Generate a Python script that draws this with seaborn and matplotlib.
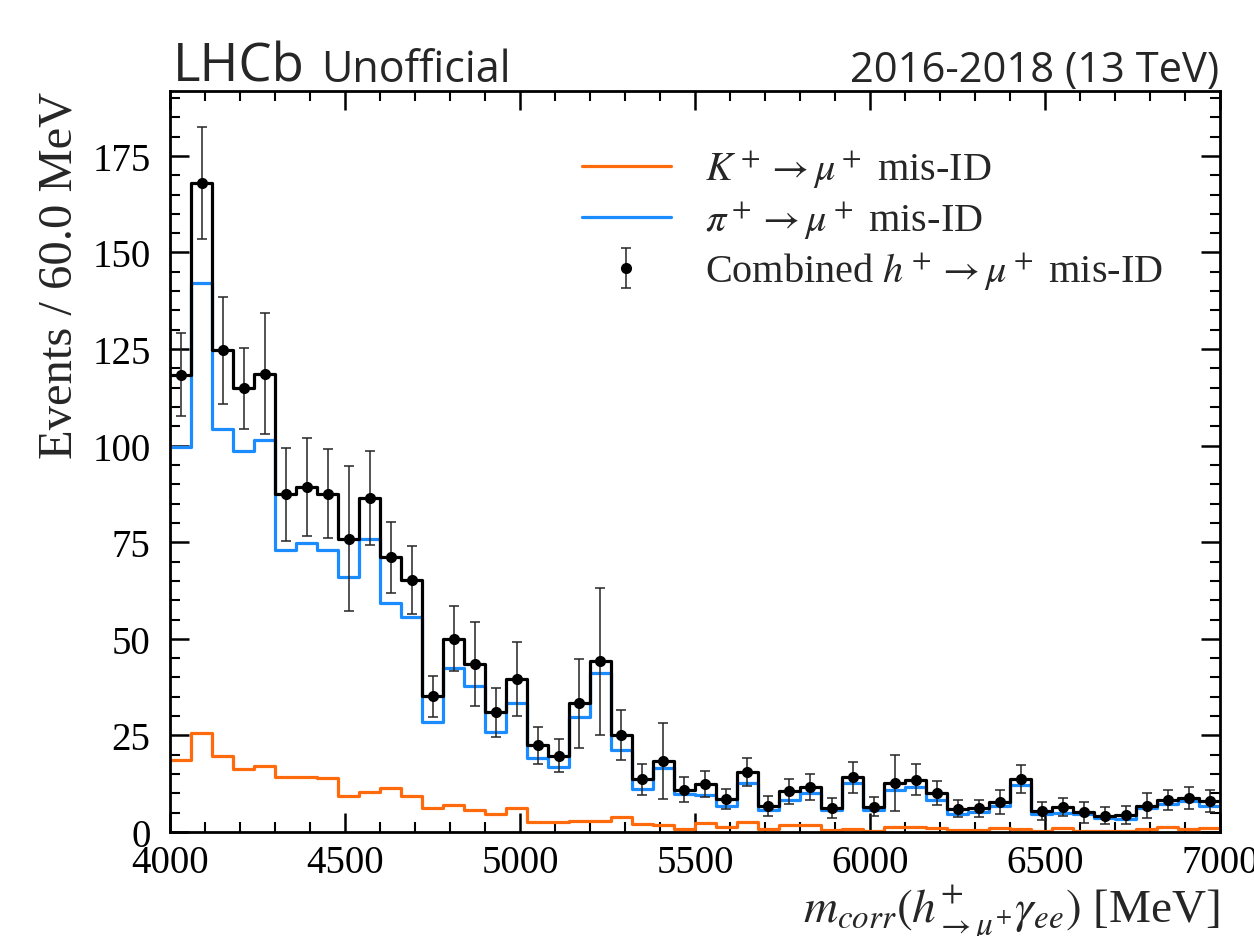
import numpy as np
import pandas as pd
import matplotlib
matplotlib.use("Agg")
import matplotlib.pyplot as plt
from matplotlib.ticker import MultipleLocator
from matplotlib.lines import Line2D
import seaborn as sns

# ---- data ----
bin_lo = 4000
bin_hi = 7000
bin_width = 60

combined = [118.4, 168.0, 124.7, 114.8, 118.6, 87.4, 89.3, 87.6, 75.9, 86.5,
            71.1, 65.3, 35.1, 50.0, 43.5, 31.0, 39.5, 22.4, 19.8, 33.3,
            44.2, 25.2, 13.7, 18.4, 11.0, 12.4, 8.5, 15.6, 6.8, 10.5,
            11.7, 6.2, 14.2, 6.6, 12.7, 13.5, 10.0, 6.0, 6.1, 7.8,
            13.7, 5.5, 6.4, 5.1, 4.2, 4.4, 6.8, 8.3, 8.8, 8.1]
combined_err = [10.7, 14.5, 13.9, 10.5, 15.7, 12.1, 12.7, 11.6, 18.8, 12.2,
                9.2, 8.8, 5.4, 8.4, 10.8, 6.3, 9.6, 4.75, 4.3, 11.6,
                19.0, 6.5, 4.0, 9.8, 3.3, 3.4, 2.6, 3.6, 2.6, 3.3,
                3.4, 2.5, 4.0, 2.5, 7.2, 4.0, 3.1, 2.2, 2.3, 3.2,
                3.6, 2.3, 2.3, 2.7, 2.2, 2.3, 3.2, 2.7, 2.8, 2.9]
pion = [99.6, 142.1, 104.4, 98.5, 101.4, 72.9, 74.9, 72.9, 65.9, 75.9,
        59.3, 55.6, 28.6, 42.4, 37.7, 25.8, 33.4, 19.2, 16.7, 29.7,
        41.1, 21.2, 11.1, 16.6, 9.8, 9.6, 6.8, 12.8, 5.7, 8.3,
        10.1, 5.7, 12.8, 5.7, 10.9, 11.7, 8.4, 4.7, 5.1, 6.8,
        12.2, 4.7, 4.8, 4.7, 3.6, 3.4, 6.1, 7.3, 8.1, 6.8]
kaon = [18.7, 25.5, 19.8, 16.3, 17.0, 14.3, 14.3, 14.0, 9.4, 10.4,
        11.5, 9.2, 6.1, 7.0, 5.8, 4.7, 6.1, 2.7, 2.7, 2.9,
        2.8, 4.0, 2.1, 1.8, 0.8, 2.4, 1.4, 2.7, 0.8, 1.9,
        1.8, 0.4, 0.9, 0.3, 1.2, 1.2, 1.0, 0.4, 0.6, 1.0,
        0.9, 0.3, 1.1, 0.3, 0.3, 0.3, 0.9, 1.2, 0.7, 1.0]

labels = [r"$K^+ \rightarrow \mu^+$ mis-ID",
          r"$\pi^+ \rightarrow \mu^+$ mis-ID",
          r"Combined $h^+ \rightarrow \mu^+$ mis-ID"]

n_bins = len(combined)
centers = bin_lo + bin_width * (np.arange(n_bins) + 0.5)
df = pd.DataFrame({"x": centers, "combined": combined, "err": combined_err,
                   "pion": pion, "kaon": kaon})

# ---- style ----
sns.set_theme(style="ticks")
plt.rcParams.update({
    "font.family": ["Liberation Serif", "DejaVu Serif"],
    "mathtext.fontset": "stix",
    "axes.linewidth": 2.0,
    "xtick.direction": "in", "ytick.direction": "in",
    "xtick.top": True, "ytick.right": True,
    "xtick.major.size": 14, "ytick.major.size": 14,
    "xtick.minor.size": 7, "ytick.minor.size": 7,
    "xtick.major.width": 1.8, "ytick.major.width": 1.8,
    "xtick.minor.width": 1.5, "ytick.minor.width": 1.5,
    "xtick.minor.visible": True, "ytick.minor.visible": True,
    "xtick.labelsize": 28, "ytick.labelsize": 28,
    "xtick.color": "black", "ytick.color": "black",
    "axes.edgecolor": "black",
})

ORANGE = "#ff6a0d"
BLUE = "#1a8cff"

fig = plt.figure(figsize=(12.54, 9.37), dpi=100)
ax = fig.add_axes([170 / 1254, 1 - 833 / 937, 1050 / 1254, 741 / 937])

hist_kws = dict(data=df, x="x", binwidth=bin_width, binrange=(bin_lo, bin_hi),
                element="step", fill=False, linewidth=2.3, ax=ax)
sns.histplot(weights="kaon", color=ORANGE, **hist_kws)
sns.histplot(weights="pion", color=BLUE, **hist_kws)
sns.histplot(weights="combined", color="black", **hist_kws)
eb = ax.errorbar(df["x"], df["combined"], yerr=df["err"], fmt="o", color="black",
                 ms=7, ecolor=(0.15, 0.15, 0.15, 0.85), elinewidth=1.3,
                 capsize=3.5, capthick=1.3, zorder=5)

h_k = Line2D([], [], color=ORANGE, lw=2.3)
h_p = Line2D([], [], color=BLUE, lw=2.3)
ax.legend([h_k, h_p, eb], labels, loc="upper right", frameon=False,
          fontsize=29, labelspacing=0.21, handlelength=2.2, handletextpad=0.85,
          bbox_to_anchor=(0.98, 0.972))

ax.set_xlim(bin_lo, bin_hi)
ax.set_ylim(0, 191.8)
ax.xaxis.set_major_locator(MultipleLocator(500))
ax.xaxis.set_minor_locator(MultipleLocator(100))
ax.yaxis.set_major_locator(MultipleLocator(25))
ax.yaxis.set_minor_locator(MultipleLocator(5))
ax.tick_params(axis="x", which="major", pad=9)
ax.tick_params(axis="y", which="major", pad=14)

ax.set_xlabel(r"$m_{corr}(h^{+}_{\rightarrow\mu^{+}}\gamma_{ee})$ [MeV]",
              fontsize=34, loc="right", labelpad=0)
ax.set_ylabel("Events / 60.0 MeV", fontsize=35, loc="top", labelpad=8)

sans = ["Open Sans", "Noto Sans", "DejaVu Sans"]
fig.text(173 / 1254, 1 - 82 / 937, "LHCb", family=sans, fontsize=38,
         ha="left", va="baseline")
fig.text(321 / 1254, 1 - 82 / 937, "Unofficial", family=sans, fontsize=31,
         ha="left", va="baseline")
fig.text(1219 / 1254, 1 - 82 / 937, "2016-2018 (13 TeV)", family=sans,
         fontsize=30, ha="right", va="baseline")

fig.savefig("out.png", dpi=100)
